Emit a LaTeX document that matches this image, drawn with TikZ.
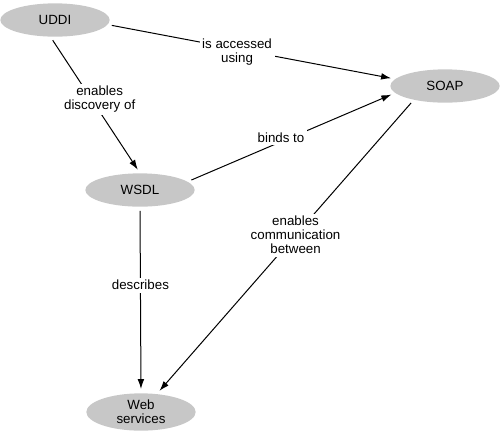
\documentclass[tikz,border=0pt]{standalone}
\usepackage{fontspec}
\setmainfont{Liberation Sans}
\usetikzlibrary{shapes.geometric,arrows.meta}
\begin{document}
\begin{tikzpicture}[x=0.75pt, y=-0.75pt, font=\fontsize{10}{10.5}\selectfont,
    concept/.style={ellipse, fill=black!22, minimum width=82pt, minimum height=25pt, inner sep=0pt, align=center},
    rel/.style={-{Latex[length=7.5pt,width=5pt]}, line width=0.75pt, shorten >=3pt, shorten <=3pt},
    lbl/.style={fill=white, align=center, inner sep=2pt}]
  \useasboundingbox (0,0) rectangle (500,430);
  \node[concept] (uddi) at (55,20) {UDDI};
  \node[concept] (soap) at (445,86) {SOAP};
  \node[concept] (wsdl) at (140,190) {WSDL};
  \node[concept, minimum height=28pt] (web) at (141,412) {Web\\services};
  \draw[rel] (uddi.355) -- node[lbl, pos=0.45, yshift=-2pt] {is accessed\\using} (soap.172);
  \draw[rel] (uddi.255) -- node[lbl, pos=0.46, xshift=6pt] {enables\\discovery of} (wsdl.north);
  \draw[rel] (wsdl.10) -- node[lbl, pos=0.45, yshift=3pt] {binds to} (soap.188);
  \draw[rel] (soap.204) -- node[lbl, pos=0.46] {enables\\communication\\between} (web);
  \draw[rel] (wsdl.south) -- node[lbl, pos=0.42] {describes} (web.north);
\end{tikzpicture}
\end{document}
